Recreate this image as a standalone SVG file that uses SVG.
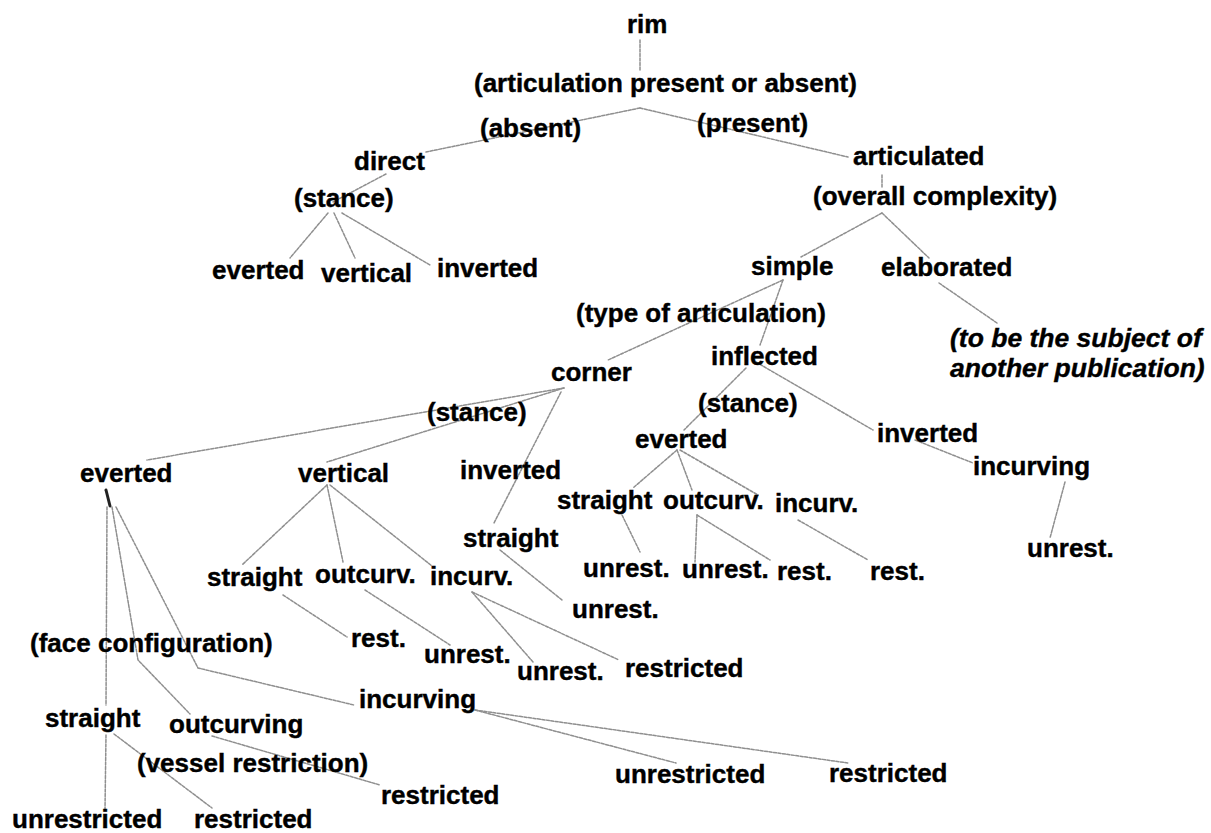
<svg xmlns="http://www.w3.org/2000/svg" width="1211" height="833" viewBox="0 0 1211 833">
<style>
text{font-family:"Liberation Sans",Arial,sans-serif;font-weight:bold;font-size:26px;fill:#000;stroke:#000;stroke-width:0.4}
.it{font-style:italic;font-size:26.5px}
#connectors line,#connectors polyline{stroke:#8f8f8f;stroke-width:1.5;fill:none;stroke-dasharray:3 1.5;stroke-linecap:round}
#connectors .mk{stroke:#222;stroke-width:3;stroke-dasharray:none}
</style>
<rect width="1211" height="833" fill="#fff"/>
<g id="connectors">
<line x1="640" y1="40" x2="640" y2="70"/>
<line x1="640" y1="108" x2="426" y2="152"/>
<line x1="640" y1="108" x2="848" y2="157"/>
<line x1="386" y1="174" x2="333" y2="202"/>
<line x1="328" y1="213" x2="290" y2="258"/>
<line x1="334" y1="213" x2="355" y2="258"/>
<line x1="342" y1="213" x2="430" y2="265"/>
<line x1="882" y1="175" x2="882" y2="188"/>
<line x1="882" y1="213" x2="801" y2="257"/>
<line x1="882" y1="213" x2="929" y2="258"/>
<line x1="783" y1="280" x2="608" y2="360"/>
<line x1="783" y1="280" x2="760" y2="345"/>
<line x1="939" y1="283" x2="997" y2="323"/>
<line x1="564" y1="388" x2="147" y2="460"/>
<line x1="564" y1="388" x2="327" y2="462"/>
<line x1="561" y1="392" x2="494" y2="523"/>
<line x1="500" y1="550" x2="562" y2="600"/>
<line x1="746" y1="368" x2="684" y2="430"/>
<line x1="756" y1="362" x2="873" y2="430"/>
<line x1="915" y1="440" x2="973" y2="463"/>
<line x1="1065" y1="482" x2="1050" y2="538"/>
<line x1="677" y1="450" x2="633" y2="488"/>
<line x1="677" y1="450" x2="692" y2="490"/>
<line x1="680" y1="450" x2="758" y2="495"/>
<line x1="622" y1="515" x2="640" y2="552"/>
<line x1="697" y1="515" x2="695" y2="562"/>
<line x1="697" y1="515" x2="770" y2="560"/>
<line x1="798" y1="520" x2="868" y2="560"/>
<line class="mk" x1="106" y1="490" x2="110" y2="506"/>
<line x1="107" y1="507" x2="106" y2="705"/>
<polyline points="112,507 138,660 190,714"/>
<polyline points="116,507 198,668 354,705"/>
<line x1="327" y1="485" x2="242" y2="565"/>
<line x1="327" y1="485" x2="343" y2="562"/>
<line x1="330" y1="485" x2="432" y2="566"/>
<line x1="283" y1="595" x2="347" y2="637"/>
<line x1="365" y1="590" x2="450" y2="645"/>
<line x1="472" y1="592" x2="533" y2="662"/>
<line x1="472" y1="592" x2="619" y2="660"/>
<line x1="475" y1="710" x2="676" y2="763"/>
<line x1="475" y1="710" x2="848" y2="763"/>
<line x1="106" y1="735" x2="105" y2="810"/>
<line x1="114" y1="734" x2="212" y2="808"/>
<line x1="212" y1="736" x2="380" y2="785"/>
</g>
<g id="n-rim"><text x="627" y="33">rim</text></g>
<g id="n-artq"><text x="474" y="92">(articulation present or absent)</text></g>
<g id="n-absent"><text x="480" y="137">(absent)</text></g>
<g id="n-present"><text x="697" y="132">(present)</text></g>
<g id="n-direct"><text x="354" y="170">direct</text></g>
<g id="n-articulated"><text x="853" y="165">articulated</text></g>
<g id="n-stance1"><text x="294" y="207">(stance)</text></g>
<g id="n-overall"><text x="813" y="205">(overall complexity)</text></g>
<g id="n-everted1"><text x="212" y="279">everted</text></g>
<g id="n-vertical1"><text x="321" y="282">vertical</text></g>
<g id="n-inverted1"><text x="437" y="277">inverted</text></g>
<g id="n-simple"><text x="751" y="275">simple</text></g>
<g id="n-elaborated"><text x="881" y="276">elaborated</text></g>
<g id="n-typeart"><text x="576" y="322">(type of articulation)</text></g>
<g id="n-tobe"><text class="it" x="950" y="347">(to be the subject of</text><text class="it" x="950" y="377">another publication)</text></g>
<g id="n-inflected"><text x="711" y="365">inflected</text></g>
<g id="n-corner"><text x="551" y="381">corner</text></g>
<g id="n-stance2"><text x="427" y="421">(stance)</text></g>
<g id="n-stance3"><text x="698" y="412">(stance)</text></g>
<g id="n-everted3"><text x="635" y="448">everted</text></g>
<g id="n-inverted3"><text x="877" y="442">inverted</text></g>
<g id="n-incurving3"><text x="973" y="475">incurving</text></g>
<g id="n-everted2"><text x="80" y="482">everted</text></g>
<g id="n-vertical2"><text x="298" y="482">vertical</text></g>
<g id="n-inverted2"><text x="460" y="479">inverted</text></g>
<g id="n-straight3"><text x="557" y="509">straight</text></g>
<g id="n-outcurv3"><text x="663" y="509">outcurv.</text></g>
<g id="n-incurv3"><text x="775" y="512">incurv.</text></g>
<g id="n-unrest-r"><text x="1027" y="557">unrest.</text></g>
<g id="n-straight2"><text x="463" y="547">straight</text></g>
<g id="n-unrest3a"><text x="583" y="577">unrest.</text></g>
<g id="n-unrest3b"><text x="682" y="578">unrest.</text></g>
<g id="n-rest3a"><text x="777" y="580">rest.</text></g>
<g id="n-rest3b"><text x="870" y="580">rest.</text></g>
<g id="n-straightv"><text x="207" y="586">straight</text></g>
<g id="n-outcurvv"><text x="315" y="583">outcurv.</text></g>
<g id="n-incurvv"><text x="430" y="585">incurv.</text></g>
<g id="n-unrest2"><text x="572" y="618">unrest.</text></g>
<g id="n-face"><text x="30" y="652">(face configuration)</text></g>
<g id="n-restv"><text x="351" y="647">rest.</text></g>
<g id="n-unrestv1"><text x="424" y="663">unrest.</text></g>
<g id="n-unrestv2"><text x="517" y="680">unrest.</text></g>
<g id="n-restrictedv"><text x="625" y="677">restricted</text></g>
<g id="n-incurving1"><text x="359" y="708">incurving</text></g>
<g id="n-straight1"><text x="45" y="727">straight</text></g>
<g id="n-outcurving1"><text x="169" y="733">outcurving</text></g>
<g id="n-vessel"><text x="137" y="772">(vessel restriction)</text></g>
<g id="n-unrestricted-i"><text x="615" y="783">unrestricted</text></g>
<g id="n-restricted-i"><text x="829" y="782">restricted</text></g>
<g id="n-restricted-o"><text x="381" y="804">restricted</text></g>
<g id="n-unrestricted-s"><text x="12" y="828">unrestricted</text></g>
<g id="n-restricted-s"><text x="194" y="828">restricted</text></g>
</svg>
